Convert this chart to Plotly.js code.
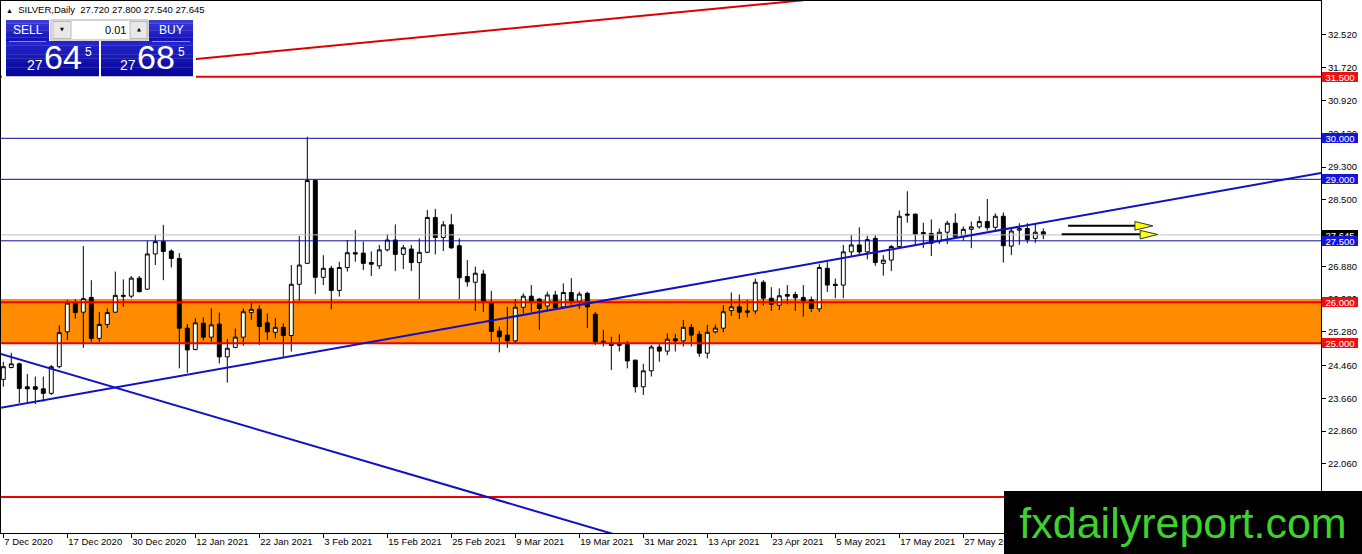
<!DOCTYPE html>
<html><head><meta charset="utf-8">
<script src="https://cdn.plot.ly/plotly-3.0.1.min.js"></script>
<style>html,body{margin:0;padding:0;background:#fff;overflow:hidden}#chart{width:1362px;height:554px}</style>
</head><body><div id="chart"></div>
<script>
// ---- data (daily SILVER candles) ----
const open = [24.12,24.41,24.50,23.94,23.94,23.89,23.78,24.43,25.28,25.98,25.76,26.12,25.12,25.46,25.76,26.14,26.15,26.59,26.32,27.18,
27.48,27.25,27.07,25.37,24.85,25.49,25.15,25.47,24.67,24.90,25.15,25.75,25.83,25.50,25.27,25.39,25.19,26.44,26.95,28.97,
26.61,26.83,26.29,26.85,27.21,27.20,26.97,26.89,27.28,27.52,27.17,27.30,26.97,27.22,28.07,27.58,27.89,27.38,26.63,26.49,
26.69,25.99,25.30,25.20,25.06,25.88,26.15,26.08,25.91,26.18,25.89,26.24,26.03,26.22,25.71,25.05,24.98,24.95,24.97,24.59,
23.94,24.33,24.91,24.81,25.11,25.06,25.39,25.22,24.76,25.28,25.37,25.80,25.89,25.79,25.79,26.49,26.10,25.93,26.19,26.19,
26.12,26.06,25.84,26.83,26.44,26.42,27.23,27.40,27.23,27.56,26.95,27.03,27.36,28.15,28.15,27.70,27.68,27.48,27.71,27.93,
27.60,27.78,27.84,27.97,27.83,28.10,27.37,27.76,27.80,27.56,27.72];
const high = [24.55,24.77,24.53,24.25,24.19,24.19,24.47,25.44,26.06,26.07,27.37,26.54,25.76,25.85,26.75,26.56,26.64,26.64,27.50,27.64,
27.89,27.29,27.20,25.47,25.61,25.63,25.85,25.75,25.10,25.36,25.85,25.99,25.93,25.73,25.61,25.49,26.91,27.62,30.04,28.99,
27.15,26.89,26.99,27.52,27.76,27.48,27.24,27.40,27.66,27.90,27.40,27.40,27.56,28.25,28.28,27.98,28.15,27.56,27.03,26.87,
26.79,26.28,25.41,25.89,26.08,26.22,26.42,26.10,26.26,26.28,26.46,26.59,26.26,26.26,25.77,25.33,25.16,25.22,25.06,24.60,
24.50,24.96,25.00,25.24,25.23,25.57,25.47,25.30,25.45,25.46,25.93,26.24,26.19,26.06,26.58,26.54,26.37,26.34,26.42,26.26,
26.42,26.14,26.93,26.98,26.58,27.40,27.64,27.83,27.62,27.64,27.15,27.40,28.24,28.71,28.17,27.94,28.02,27.80,27.99,28.17,
27.85,27.97,28.10,28.52,28.17,28.19,27.80,27.93,27.93,27.91,27.80];
const low = [23.94,24.39,23.54,23.54,23.52,23.58,23.74,24.39,25.08,25.60,24.89,25.04,25.04,25.37,25.74,25.89,26.10,26.24,26.30,26.91,
26.54,26.85,24.39,24.28,24.83,25.07,25.04,24.51,24.04,24.88,24.94,25.57,24.96,25.08,25.12,24.67,24.80,26.04,26.95,26.20,
26.42,25.83,26.14,26.75,26.99,26.79,26.64,26.81,27.24,26.76,26.81,26.76,26.08,27.20,27.17,27.25,27.30,26.08,26.38,25.79,
25.77,25.04,24.78,24.89,24.98,25.73,25.77,25.33,25.81,25.81,25.85,25.94,25.84,25.37,24.96,24.92,24.35,24.80,24.39,23.80,
23.74,24.19,24.55,24.71,24.80,24.92,24.92,24.67,24.63,25.24,25.27,25.67,25.59,25.63,25.71,25.92,25.79,25.81,25.95,25.79,
25.65,25.76,25.76,26.25,26.10,26.10,27.11,27.15,27.05,26.89,26.65,26.76,27.36,27.94,27.40,27.32,27.13,27.42,27.42,27.56,
27.50,27.32,27.80,27.75,27.72,26.97,27.15,27.40,27.44,27.45,27.54];
const close = [24.43,24.50,23.90,23.89,23.88,23.78,24.43,25.26,25.98,25.75,26.09,25.12,25.46,25.75,26.17,26.17,26.59,26.26,27.18,27.48,
27.24,27.07,25.37,24.84,25.50,25.15,25.45,24.67,24.88,25.15,25.77,25.83,25.41,25.28,25.39,25.19,26.44,26.91,28.97,26.61,
26.83,26.29,26.85,27.21,27.18,26.95,26.93,27.28,27.52,27.17,27.33,26.97,27.22,28.07,27.58,27.89,27.33,26.60,26.50,26.71,
26.03,25.29,25.16,25.06,25.88,26.15,26.03,25.85,26.18,25.87,26.24,26.03,26.20,25.89,25.04,25.00,24.95,24.98,24.57,23.94,
24.33,24.91,24.81,25.10,25.06,25.39,25.20,24.76,25.27,25.37,25.77,25.89,25.76,25.76,26.49,26.10,25.95,26.16,26.15,26.11,
26.04,25.85,26.85,26.42,26.41,27.23,27.40,27.23,27.53,26.97,27.03,27.36,28.10,28.13,27.66,27.67,27.44,27.71,27.93,27.60,
27.78,27.84,27.97,27.82,28.10,27.38,27.74,27.80,27.53,27.71,27.645];

const tickBars  = [0,8,16,24,32,40,48,56,64,72,80,88,96,104,112,120];
const tickDates = ['7 Dec 2020','17 Dec 2020','30 Dec 2020','12 Jan 2021','22 Jan 2021','3 Feb 2021','15 Feb 2021','25 Feb 2021',
  '9 Mar 2021','19 Mar 2021','31 Mar 2021','13 Apr 2021','23 Apr 2021','5 May 2021','17 May 2021','27 May 2021'];
const priceTicks = [32.52,31.72,30.92,30.12,29.30,28.50,27.70,26.88,26.08,25.28,24.46,23.66,22.86,22.06,21.25];

const redLevels  = [31.5, 26.0, 25.0, 21.25];
const blueLevels = [30.0, 29.0, 27.5];
const zoneLow = 25.0, zoneHigh = 26.08;
const lastPrice = 27.645;
const symbolName = 'SILVER,Daily';
const ohlcText = ['27.720','27.800','27.540','27.645'];
const bidParts = ['27','64','5'];
const askParts = ['27','68','5'];
const lotSize = '0.01';
const watermark = 'fxdailyreport.com';

// ---- drawing objects (in axis units) ----
const redTrend  = [[5, 31.575],[100, 33.367]];
const blueUp    = [[-1, 23.402],[166, 29.20]];
const blueDown  = [[-1, 24.779],[80, 20.134]];
const arrows = [
  {line:[133.1,141.7], y:27.87, head:[[141.45,27.97],[141.45,27.76],[143.7,27.865]]},
  {line:[132.3,142.2], y:27.66, head:[[142.1,27.755],[142.1,27.545],[144.3,27.655]]}
];

// pixel helpers for the fixed decorations (paper coords)
const PX = px => (px-1)/1320;
const PY = py => (533-py)/532;

const idx = open.map((_, i) => i);
const FONT = 'Liberation Sans, Arial, sans-serif';

const trace = {
  type:'candlestick', x: idx, open, high, low, close,
  increasing:{line:{color:'#000', width:1}, fillcolor:'#ffffff'},
  decreasing:{line:{color:'#000', width:1}, fillcolor:'#000000'},
  whiskerwidth:0, hoverinfo:'skip', showlegend:false
};

const shapes = [];
shapes.push({type:'rect', xref:'paper', yref:'y', x0:0, x1:1, y0:zoneLow, y1:zoneHigh,
  fillcolor:'#ff8c00', line:{width:0}, layer:'below'});
shapes.push({type:'line', xref:'paper', yref:'y', x0:0, x1:1, y0:lastPrice, y1:lastPrice,
  line:{color:'#c0c0c0', width:1}, layer:'above'});
blueLevels.forEach(v => shapes.push({type:'line', xref:'paper', yref:'y', x0:0, x1:1, y0:v, y1:v,
  line:{color:'#0a0aa8', width:1}, layer:'above'}));
redLevels.forEach(v => shapes.push({type:'line', xref:'paper', yref:'y', x0:0, x1:1, y0:v, y1:v,
  line:{color:'#ee0000', width:2}, layer:'above'}));
[[redTrend,'#dd0000'],[blueUp,'#1010c8'],[blueDown,'#1010c8']].forEach(([p,c]) =>
  shapes.push({type:'line', xref:'x', yref:'y', x0:p[0][0], y0:p[0][1], x1:p[1][0], y1:p[1][1],
    line:{color:c, width:2}, layer:'above'}));
arrows.forEach(a => {
  shapes.push({type:'line', xref:'x', yref:'y', x0:a.line[0], x1:a.line[1], y0:a.y, y1:a.y,
    line:{color:'#000', width:2}, layer:'above'});
  const h = a.head;
  shapes.push({type:'path', xref:'x', yref:'y',
    path:`M${h[0][0]},${h[0][1]} L${h[1][0]},${h[1][1]} L${h[2][0]},${h[2][1]} Z`,
    fillcolor:'#ffff00', line:{color:'#333', width:1}, layer:'above'});
});

// trade panel (top-left)
function prect(x0,y0,x1,y1,fill,lineColor){
  shapes.push({type:'rect', xref:'paper', yref:'paper', x0:PX(x0), x1:PX(x1), y0:PY(y1), y1:PY(y0),
    fillcolor:fill, line:lineColor?{color:lineColor,width:1}:{width:0}, layer:'above'});
}
function gradRect(x0,y0,x1,y1,c0,c1,n){
  const h=(y1-y0)/n;
  const p = s=>parseInt(s,16);
  for(let k=0;k<n;k++){
    const t=k/(n-1);
    const r=Math.round(p(c0.slice(1,3))*(1-t)+p(c1.slice(1,3))*t);
    const g=Math.round(p(c0.slice(3,5))*(1-t)+p(c1.slice(3,5))*t);
    const b=Math.round(p(c0.slice(5,7))*(1-t)+p(c1.slice(5,7))*t);
    prect(x0,y0+k*h,x1,y0+(k+1)*h+0.3,`rgb(${r},${g},${b})`);
  }
}
prect(2,16,196,78,'#ffffff');
gradRect(6,20,49,41,'#3a3ad8','#1414b8',6);
gradRect(149,20,193,41,'#3a3ad8','#1414b8',6);
gradRect(6,41,99,76,'#2424c8','#06069a',8);
gradRect(101,41,193,76,'#2424c8','#06069a',8);
shapes.push({type:'line', xref:'paper', yref:'paper', x0:PX(9), x1:PX(46), y0:PY(41.5), y1:PY(41.5), line:{color:'#8c8cec',width:1}, layer:'above'});
shapes.push({type:'line', xref:'paper', yref:'paper', x0:PX(152), x1:PX(190), y0:PY(41.5), y1:PY(41.5), line:{color:'#8c8cec',width:1}, layer:'above'});
prect(51,20,148,40,'#ffffff','#a8a8a8');
prect(53,21.5,71,38.5,'#e8e8e8','#b8b8b8');
prect(130,21.5,147,38.5,'#e8e8e8','#b8b8b8');

const annotations = [];
function ptext(text,x,y,opts){
  annotations.push(Object.assign({xref:'paper', yref:'paper', x:PX(x), y:PY(y), xanchor:'left', yanchor:'middle',
    text, showarrow:false, borderpad:0, font:{family:FONT, size:10, color:'#000'}}, opts||{}));
}
ptext('<span style="font-size:7px">▲</span>  ' + symbolName + '&nbsp;&nbsp;' + ohlcText.join(' '), 5, 9, {font:{family:FONT,size:9.5,color:'#000'}});
ptext('SELL', 28, 30.5, {xanchor:'center', font:{family:FONT,size:12,color:'#fff'}});
ptext('BUY', 171, 30.5, {xanchor:'center', font:{family:FONT,size:12,color:'#fff'}});
ptext(lotSize, 127, 29.5, {xanchor:'right', font:{family:FONT,size:11,color:'#000'}});
ptext('▼', 62, 29, {xanchor:'center', font:{family:'DejaVu Sans',size:5,color:'#000'}});
ptext('▲', 138.5, 29, {xanchor:'center', font:{family:'DejaVu Sans',size:5,color:'#000'}});
[[bidParts,26],[askParts,119]].forEach(([p,x]) => {
  ptext(p[0], x, 65.5, {font:{family:FONT,size:14,color:'#fff'}});
  ptext(p[1], x+17, 57.5, {font:{family:FONT,size:34,color:'#fff'}});
  ptext(p[2], x+58, 52, {font:{family:FONT,size:12,color:'#fff'}});
});

// right axis price labels
function plabel(v, bg){
  annotations.push({xref:'paper', yref:'y', x:1, xshift:1, xanchor:'left', y:v, yanchor:'middle',
    text:v.toFixed(3), showarrow:false, bgcolor:bg, borderpad:0, borderwidth:0, width:36, height:10,
    font:{family:FONT, size:9.5, color:'#fff'}});
}
plabel(lastPrice,'#000000');
plabel(31.5,'#ee1111'); plabel(30.0,'#1515dd'); plabel(29.0,'#1515dd'); plabel(27.5,'#1515dd');
plabel(26.0,'#ee1111'); plabel(25.0,'#ee1111'); plabel(21.25,'#ee1111');

// watermark box
annotations.push({xref:'paper', yref:'paper', x:PX(1004), y:PY(554), xanchor:'left', yanchor:'bottom',
  width:358, height:63, bgcolor:'#000', borderpad:0, borderwidth:0, align:'center', valign:'middle',
  text:watermark, showarrow:false,
  font:{family:'Liberation Sans Narrow, Arial Narrow, Liberation Sans, sans-serif', size:43, color:'#3dd22c'}});

const layout = {
  width:1362, height:554,
  margin:{l:1, r:41, t:1, b:21, pad:0},
  paper_bgcolor:'#fff', plot_bgcolor:'#fff', showlegend:false,
  xaxis:{range:[-0.2875,164.71], type:'linear', showgrid:false, zeroline:false, showline:true, linecolor:'#000', linewidth:1,
    mirror:true, ticks:'outside', ticklen:4, tickcolor:'#000', tickvals:tickBars, ticktext:tickDates,
    ticklabelposition:'outside right', tickfont:{family:FONT, size:9.5, color:'#000'},
    rangeslider:{visible:false}, fixedrange:true},
  yaxis:{side:'right', range:[20.374,33.349], showgrid:false, zeroline:false, showline:true, linecolor:'#000', linewidth:1,
    mirror:true, ticks:'outside', ticklen:4, tickcolor:'#000', tickvals:priceTicks,
    ticktext:priceTicks.map(v=>v.toFixed(3)), tickfont:{family:FONT, size:9.5, color:'#000'}, fixedrange:true},
  shapes, annotations
};
Plotly.newPlot('chart', [trace], layout, {displayModeBar:false, staticPlot:true});
</script></body></html>
